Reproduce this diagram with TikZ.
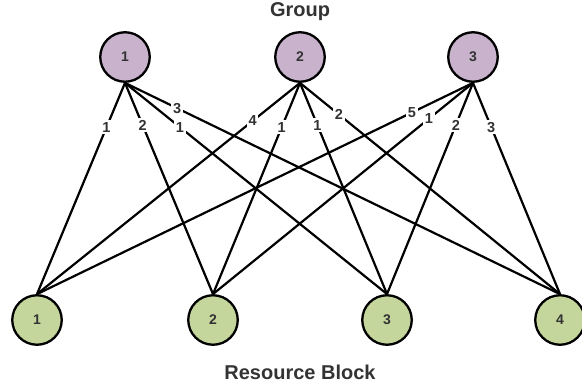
\documentclass[tikz,border=0pt]{standalone}
\usepackage{fontspec}
\setmainfont{Liberation Sans}
\definecolor{grp}{HTML}{C8B2CC}
\definecolor{rb}{HTML}{C4D69C}
\definecolor{txt}{HTML}{333333}
\begin{document}
\begin{tikzpicture}[x=1pt,y=-1pt,
  vert/.style={circle,draw=black,line width=2.3pt,minimum size=49.5pt,inner sep=0pt,
    font=\fontsize{14}{14}\selectfont\bfseries,text=txt},
  gnode/.style={vert,fill=grp},
  rnode/.style={vert,fill=rb},
  link/.style={line width=2.2pt,black},
  wt/.style={fill=white,inner sep=1.8pt,font=\fontsize{14.5}{14.5}\selectfont\bfseries,text=txt},
  title/.style={font=\fontsize{20}{20}\selectfont\bfseries,text=txt}]
\useasboundingbox (0,0) rectangle (582,385);
% headings
\node[title] (tg) at (300,12) {Group};
\node[title] (tr) at (300,372) {Resource Block};
% groups (top) and resource blocks (bottom)
\node[gnode] (g1) at (125,57) {1};
\node[gnode] (g2) at (300,57) {2};
\node[gnode] (g3) at (473,57) {3};
\node[rnode] (b1) at (37,320) {1};
\node[rnode] (b2) at (213,320) {2};
\node[rnode] (b3) at (387,320) {3};
\node[rnode] (b4) at (560,320) {4};
% weighted links
\draw[link] (g1.south) -- node[wt,pos=0.21] {1} (b1.north);
\draw[link] (g1.south) -- node[wt,pos=0.2] {2} (b2.north);
\draw[link] (g1.south) -- node[wt,pos=0.21] {1} (b3.north);
\draw[link] (g1.south) -- node[wt,pos=0.12] {3} (b4.north);
\draw[link] (g2.south) -- node[wt,pos=0.18] {4} (b1.north);
\draw[link] (g2.south) -- node[wt,pos=0.21] {1} (b2.north);
\draw[link] (g2.south) -- node[wt,pos=0.2] {1} (b3.north);
\draw[link] (g2.south) -- node[wt,pos=0.15] {2} (b4.north);
\draw[link] (g3.south) -- node[wt,pos=0.14] {5} (b1.north);
\draw[link] (g3.south) -- node[wt,pos=0.17] {1} (b2.north);
\draw[link] (g3.south) -- node[wt,pos=0.2] {2} (b3.north);
\draw[link] (g3.south) -- node[wt,pos=0.21] {3} (b4.north);
\end{tikzpicture}
\end{document}
